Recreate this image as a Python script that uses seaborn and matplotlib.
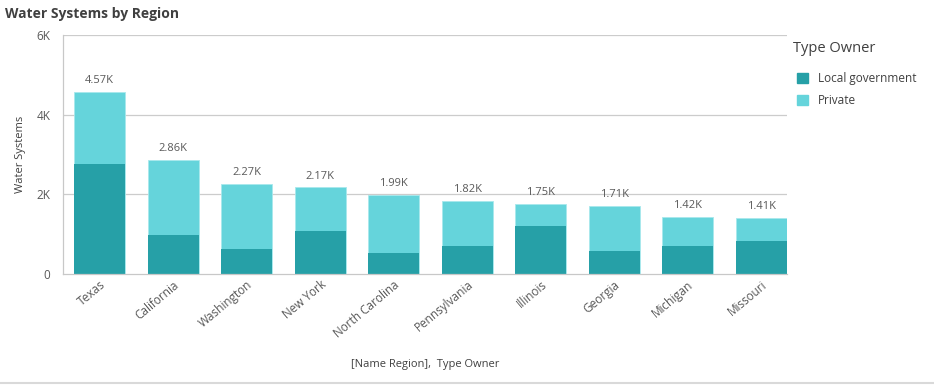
import matplotlib.pyplot as plt
import seaborn as sns
import pandas as pd

# Data
regions = ['Texas', 'California', 'Washington', 'New York', 'North Carolina',
           'Pennsylvania', 'Illinois', 'Georgia', 'Michigan', 'Missouri']
totals = [4570, 2860, 2270, 2170, 1990, 1820, 1750, 1710, 1420, 1410]
local_gov = [2760, 980, 630, 1080, 530, 700, 1210, 585, 700, 830]
total_labels = ['4.57K', '2.86K', '2.27K', '2.17K', '1.99K',
                '1.82K', '1.75K', '1.71K', '1.42K', '1.41K']
y_ticks = [0, 2000, 4000, 6000]
y_tick_labels = ['0', '2K', '4K', '6K']

df = pd.DataFrame({'region': regions, 'total': totals, 'local': local_gov})

dark = '#26a0a7'
light = '#65d4db'
text_col = '#595959'

sns.set_style('white')
plt.rcParams['font.family'] = ['Open Sans', 'DejaVu Sans']

fig = plt.figure(figsize=(9.34, 3.87), dpi=100)
ax = fig.add_axes([0.0675, 0.292, 0.775, 0.618])

# Private stacked on top: draw totals first, then local government over them
sns.barplot(data=df, x='region', y='total', color=light, width=0.69,
            saturation=1, edgecolor='#a8e8ec', linewidth=0.6, ax=ax)
sns.barplot(data=df, x='region', y='local', color=dark, width=0.69,
            saturation=1, linewidth=0, ax=ax)

# total labels above bars
for i, (t, lab) in enumerate(zip(totals, total_labels)):
    ax.text(i, t + 150, lab, ha='center', va='bottom', fontsize=8, color=text_col)

ax.set_ylim(0, 6000)
ax.set_xlim(-0.5, 9.35)
ax.set_yticks(y_ticks)
ax.set_yticklabels(y_tick_labels, fontsize=8.5, color=text_col)
ax.tick_params(axis='y', length=7, color='#c8c8c8', pad=2)
ax.tick_params(axis='x', length=0, pad=3)
ax.set_xticks(range(len(regions)))
ax.set_xticklabels(regions, rotation=40, ha='right', rotation_mode='anchor',
                   fontsize=8.5, color=text_col)

for y in y_ticks[1:]:
    ax.axhline(y, color='#cccccc', linewidth=0.9, zorder=0)

for side in ['top', 'right']:
    ax.spines[side].set_visible(False)
ax.spines['left'].set_color('#c8c8c8')
ax.spines['bottom'].set_color('#c8c8c8')
ax.spines['left'].set_linewidth(0.9)
ax.spines['bottom'].set_linewidth(0.9)

ax.set_ylabel('Water Systems', fontsize=8, color='#404040', labelpad=8)
ax.set_xlabel('[Name Region],  Type Owner', fontsize=8, color='#404040')
ax.xaxis.set_label_coords(0.5, -0.355)

# Legend
fig.text(0.849, 0.875, 'Type Owner', fontsize=10.5, color='#404040', va='center')
handles = [plt.Rectangle((0, 0), 1, 1, color=dark), plt.Rectangle((0, 0), 1, 1, color=light)]
fig.legend(handles, ['Local government', 'Private'], loc='upper left',
           bbox_to_anchor=(0.844, 0.835), frameon=False, fontsize=8.5,
           labelcolor='#404040', handlelength=1.0, handleheight=1.0,
           handletextpad=0.8, labelspacing=0.75, borderpad=0.2)

fig.text(0.005, 0.965, 'Water Systems by Region', fontsize=10, fontweight='bold',
         color='#404040', va='center')

# bottom separator line
fig.add_artist(plt.Line2D([0, 1], [0.01, 0.01], color='#d9d9d9', linewidth=1.5))

fig.savefig('out.png', dpi=100)
